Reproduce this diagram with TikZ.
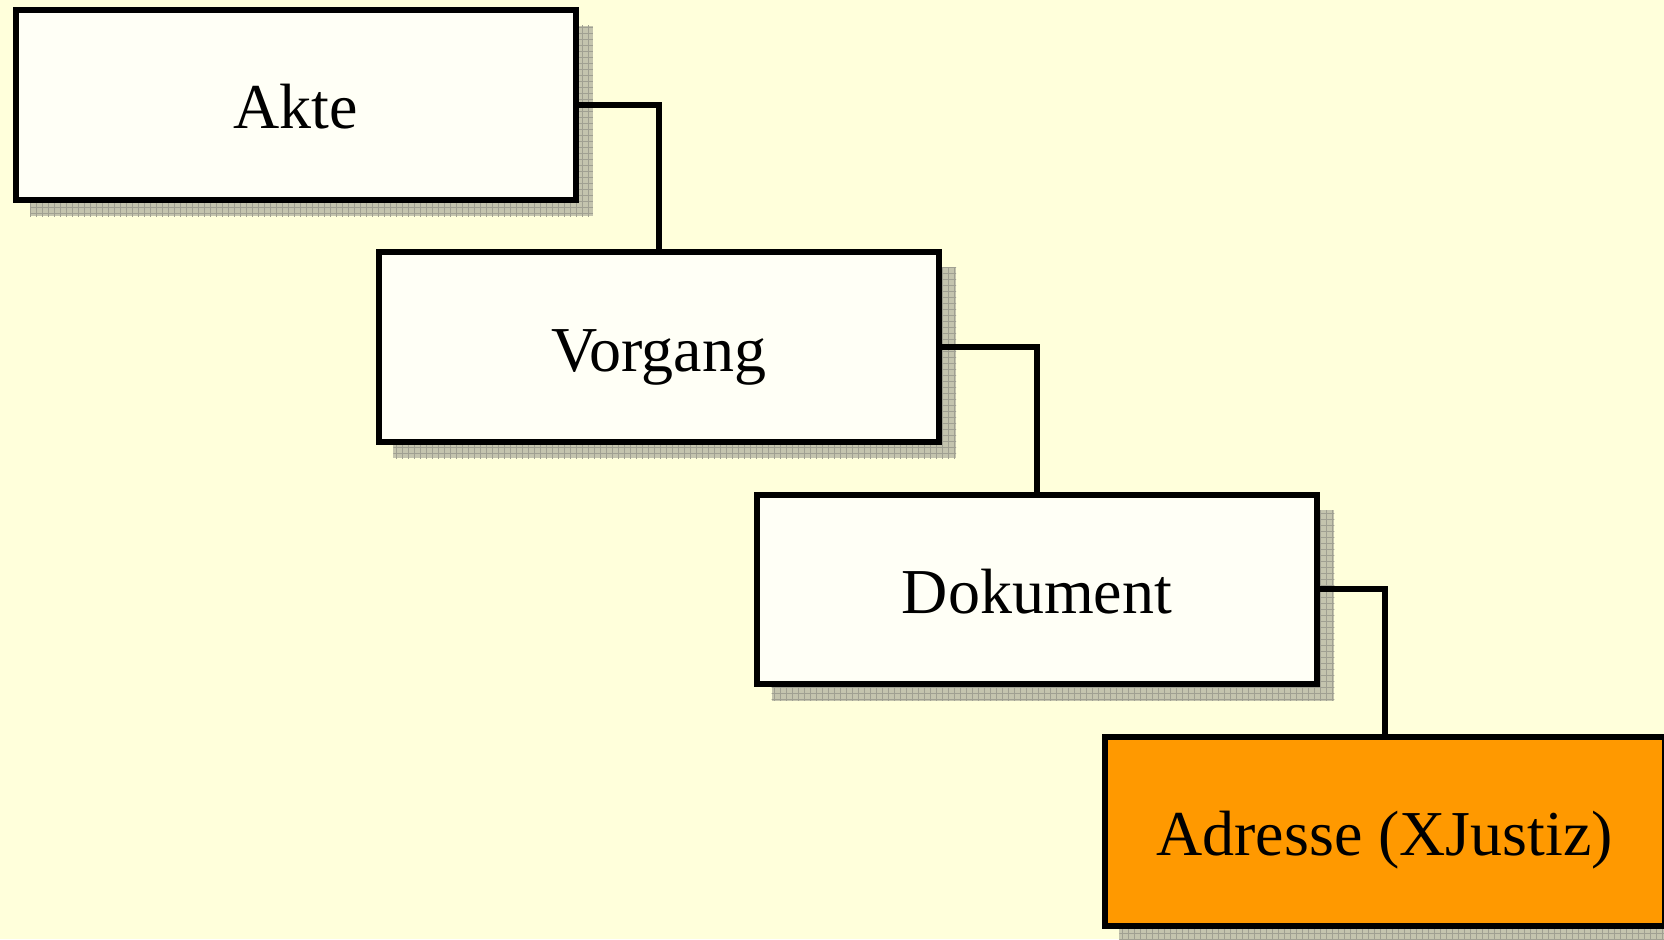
\documentclass[tikz,border=0pt]{standalone}
\usepackage{fontspec}
\setmainfont{Liberation Serif}
\usepackage{tikz}
\usetikzlibrary{calc}
\usetikzlibrary{shadows}
\usetikzlibrary{patterns}
\usetikzlibrary{positioning}
\definecolor{paper}{RGB}{255,255,219}
\definecolor{boxwhite}{RGB}{255,255,246}
\definecolor{xorange}{RGB}{255,153,0}
\definecolor{shadowgray}{RGB}{196,196,174}
\definecolor{shadowline}{RGB}{160,160,146}
\tikzset{entity/.style={rectangle,draw=black,line width=3pt,fill=boxwhite,
    minimum width=280pt,minimum height=94.75pt,inner sep=0pt,
    text height=30pt,text depth=6pt,font=\fontsize{32}{38}\selectfont,
    drop shadow={shadow xshift=8pt,shadow yshift=-8pt,shadow scale=1.005,opacity=1,fill=shadowgray,
      postaction={pattern=grid,pattern color=shadowline}}}}

\begin{document}
\begin{tikzpicture}[x=0.5pt,y=0.5pt]
\tikzset{link/.style={line width=3pt,draw=black}}

    \fill[paper] (0,0) rectangle (1664,-939);
    \useasboundingbox (0,0) rectangle (1664,-939);

    \node[entity] (akte) at (295.5,-104.75){Akte};
    \node[entity] (vorgang) at (658.7,-347){Vorgang};
    \node[entity] (dokument) at (1037,-589.4){Dokument};
    \node[entity, fill=xorange] (adresse) at (1384.7,-831.4){Adresse (XJustiz)};

    \draw[link] (akte.east) -| (vorgang.north);
    \draw[link] (vorgang.east) -| (dokument.north);
    \draw[link] (dokument.east) -| (adresse.north);

\end{tikzpicture}
\end{document}
